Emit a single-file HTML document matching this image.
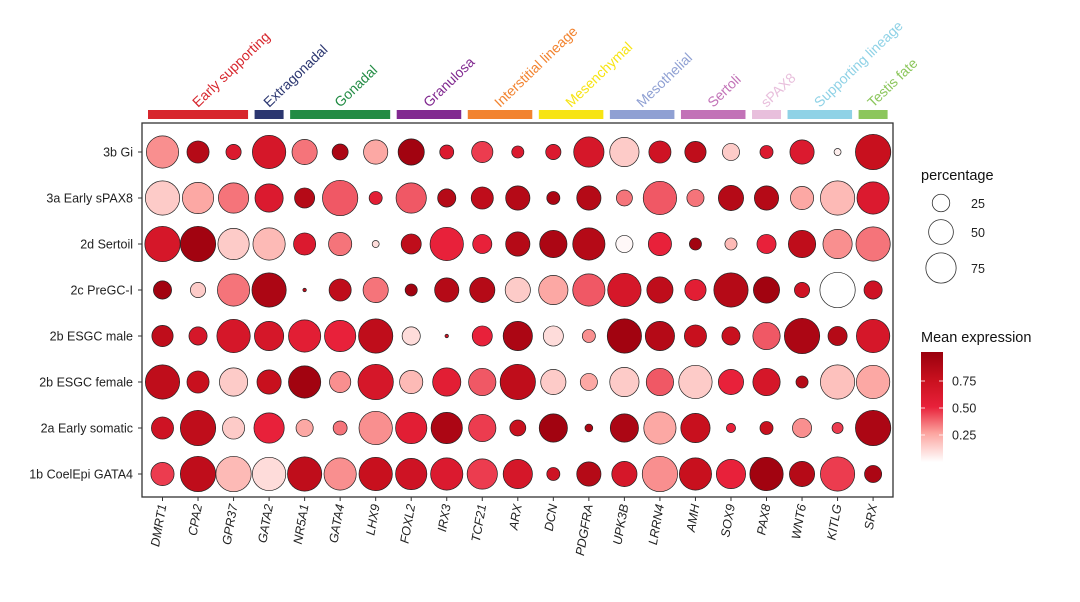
<!DOCTYPE html>
<html><head><meta charset="utf-8">
<style>
html,body{margin:0;padding:0;background:#fff;}
svg{display:block;font-family:"Liberation Sans",Arial,sans-serif;}
</style></head>
<body>
<svg id="chart" width="1080" height="602" viewBox="0 0 1080 602" xmlns="http://www.w3.org/2000/svg">
<rect x="0" y="0" width="1080" height="602" fill="#fff"/>
<g id="annot"></g>
<rect x="142" y="123" width="751" height="374" fill="#fff" stroke="#333" stroke-width="1.3"/>
<g id="dots"></g>
<g id="yaxis"></g>
<g id="xaxis"></g>
<g id="legend-size">
  <text x="921" y="180" font-size="14.5" fill="#111">percentage</text>
</g>
<g id="legend-color">
  <text x="921" y="342" font-size="14.5" fill="#111">Mean expression</text>
  <defs><linearGradient id="cg" x1="0" y1="1" x2="0" y2="0">
    <stop offset="0" stop-color="#ffffff"/>
    <stop offset="0.26" stop-color="#fca5a0"/>
    <stop offset="0.5" stop-color="#e8213a"/>
    <stop offset="0.75" stop-color="#c8101e"/>
    <stop offset="1" stop-color="#99000d"/>
  </linearGradient></defs>
  <rect x="921" y="352" width="22" height="110" fill="url(#cg)"/>
</g>
</svg>
<script>
const genes = ["DMRT1","CPA2","GPR37","GATA2","NR5A1","GATA4","LHX9","FOXL2","IRX3","TCF21","ARX","DCN","PDGFRA","UPK3B","LRRN4","AMH","SOX9","PAX8","WNT6","KITLG","SRX"];
const cellTypes = ["3b Gi","3a Early sPAX8","2d Sertoil","2c PreGC-I","2b ESGC male","2b ESGC female","2a Early somatic","1b CoelEpi GATA4"];
// percentage per row (rows in cellTypes order, columns in genes order)
const pct3bGi = [85,40,19,91,52,21,48,56,16,37,12,19,75,70,40,37,24,14,48,4,102];
const pct3a   = [96,80,75,65,33,102,14,75,27,40,48,14,48,21,91,24,52,48,44,96,85];
const pct2d   = [102,102,80,85,40,44,4,33,91,30,48,61,85,24,44,12,12,30,61,70,96];
const pct2c   = [27,19,85,96,1,40,52,12,48,52,52,70,85,91,56,37,96,56,19,102,27];
const pct2bM  = [37,27,91,70,85,80,96,27,1,33,70,33,14,96,70,40,27,61,102,30,91];
const pct2bF  = [96,40,65,48,85,37,102,44,65,61,102,52,24,70,61,91,52,61,12,96,91];
const pct2a   = [40,102,40,75,24,16,91,80,80,61,21,65,5,65,85,70,7,14,30,10,102];
const pct1b   = [44,102,102,91,96,85,91,80,85,75,70,14,48,52,102,85,70,91,52,96,24];
// mean expression per row
const exp3bGi = [0.3,0.85,0.6,0.65,0.35,0.9,0.25,0.95,0.6,0.45,0.6,0.6,0.65,0.15,0.7,0.8,0.15,0.6,0.6,0.05,0.75];
const exp3a   = [0.15,0.25,0.35,0.6,0.85,0.4,0.55,0.4,0.85,0.8,0.85,0.9,0.85,0.35,0.4,0.35,0.85,0.85,0.25,0.2,0.6];
const exp2d   = [0.65,0.95,0.15,0.2,0.6,0.35,0.1,0.8,0.5,0.5,0.85,0.9,0.85,0.02,0.5,0.95,0.2,0.5,0.8,0.3,0.35];
const exp2c   = [0.95,0.15,0.35,0.9,0.8,0.8,0.35,0.95,0.85,0.85,0.15,0.25,0.4,0.65,0.8,0.55,0.85,0.95,0.7,0.0,0.7];
const exp2bM  = [0.8,0.65,0.65,0.65,0.55,0.5,0.8,0.1,0.7,0.5,0.9,0.1,0.3,0.95,0.85,0.75,0.75,0.4,0.9,0.85,0.65];
const exp2bF  = [0.8,0.75,0.15,0.75,0.95,0.3,0.65,0.2,0.55,0.4,0.8,0.15,0.25,0.15,0.4,0.15,0.5,0.65,0.85,0.18,0.25];
const exp2a   = [0.7,0.8,0.15,0.5,0.25,0.35,0.3,0.55,0.9,0.45,0.75,0.95,0.9,0.9,0.25,0.75,0.5,0.75,0.3,0.45,0.9];
const exp1b   = [0.45,0.8,0.2,0.1,0.8,0.3,0.75,0.7,0.6,0.45,0.65,0.7,0.85,0.65,0.3,0.75,0.5,0.95,0.85,0.45,0.9];
const pctRows = [pct3bGi,pct3a,pct2d,pct2c,pct2bM,pct2bF,pct2a,pct1b];
const expRows = [exp3bGi,exp3a,exp2d,exp2c,exp2bM,exp2bF,exp2a,exp1b];
const sizeBreaks = [25,50,75];
const colorTicks = [0.25,0.5,0.75];
const groupNames = ["Early supporting","Extragonadal","Gonadal","Granulosa","Interstitial lineage","Mesenchymal","Mesothelial","Sertoli","sPAX8","Supporting lineage","Testis fate"];
const groupStart = [0,3,4,7,9,11,13,15,17,18,20];
const groupEnd   = [2,3,6,8,10,12,14,16,17,19,20];
const groupColors = ["#d7262d","#2b3670","#228b44","#812990","#f2832f","#f7e413","#8fa0d3","#c272b7","#e8bfdc","#8fd2e6","#8cc65c"];

const NS="http://www.w3.org/2000/svg";
const X0=162.5, DX=35.53, Y0=152, DY=46;
const xScale = i => X0 + i*DX;
const yScale = j => Y0 + j*DY;
const rScale = p => Math.sqrt(p)*1.75;
const cbY = v => 462 - v*108;
function lerp(a,b,t){return Math.round(a+(b-a)*t);}
const stops=[[0,[255,255,255]],[0.26,[252,165,160]],[0.5,[232,33,58]],[0.75,[200,16,30]],[1,[153,0,13]]];
function colorOf(v){
  v=Math.max(0,Math.min(1,v));
  for(let k=1;k<stops.length;k++){
    if(v<=stops[k][0]){const a=stops[k-1],b=stops[k];const t=(v-a[0])/(b[0]-a[0]);
      return `rgb(${lerp(a[1][0],b[1][0],t)},${lerp(a[1][1],b[1][1],t)},${lerp(a[1][2],b[1][2],t)})`;}
  }
  return "rgb(153,0,13)";
}
function mk(tag,attrs,parent){const e=document.createElementNS(NS,tag);for(const k in attrs)e.setAttribute(k,attrs[k]);parent.appendChild(e);return e;}

const dots=document.getElementById('dots');
cellTypes.forEach((ct,j)=>{
  genes.forEach((g,i)=>{
    const c=mk('circle',{cx:xScale(i),cy:yScale(j),r:rScale(pctRows[j][i]),fill:colorOf(expRows[j][i]),stroke:'#222','stroke-width':0.7},dots);
    
    
  });
});
const ya=document.getElementById('yaxis');
cellTypes.forEach((ct,j)=>{
  const t=mk('text',{x:133,y:yScale(j)+4.5,'text-anchor':'end','font-size':12.5,fill:'#222'},ya);
  t.textContent=ct;
  
  
  const l=mk('line',{x1:138,x2:142,y1:yScale(j),y2:yScale(j),stroke:'#333'},ya);
  
  
});
const xa=document.getElementById('xaxis');
genes.forEach((g,i)=>{
  const l=mk('line',{x1:xScale(i),x2:xScale(i),y1:497,y2:501,stroke:'#333'},xa);
  
  
  const x=xScale(i)+4, y=505;
  const t=mk('text',{x:x,y:y,'text-anchor':'end','font-size':12.5,'font-style':'italic',fill:'#222',transform:`rotate(-80 ${x} ${y})`},xa);
  t.textContent=g;
  
  
});
const an=document.getElementById('annot');
groupNames.forEach((n,k)=>{
  const x1=xScale(groupStart[k])-14.5, x2=xScale(groupEnd[k])+14.5;
  const r=mk('rect',{x:x1,y:110,width:x2-x1,height:9,fill:groupColors[k]},an);
  
  
  const cx=(x1+x2)/2, cy=108;
  const t=mk('text',{x:cx,y:cy,'font-size':14,fill:groupColors[k],transform:`rotate(-44 ${cx} ${cy})`},an);
  t.textContent=n;
  
  
});
const ls=document.getElementById('legend-size');
const legY=[203,232,268];
sizeBreaks.forEach((b,k)=>{
  const c=mk('circle',{cx:941,cy:legY[k],r:rScale(b),fill:'#fff',stroke:'#333','stroke-width':0.8},ls);
  
  
  const t=mk('text',{x:971,y:legY[k]+5,'font-size':12.5,fill:'#222'},ls);
  t.textContent=String(b);
  
  
});
const lc=document.getElementById('legend-color');
colorTicks.forEach(v=>{
  const y=cbY(v);
  const l1=mk('line',{x1:921,x2:925,y1:y,y2:y,stroke:'#fff','stroke-width':0.8},lc);
  
  
  const l2=mk('line',{x1:939,x2:943,y1:y,y2:y,stroke:'#fff','stroke-width':0.8},lc);
  
  
  const t=mk('text',{x:952,y:y+4.5,'font-size':12.5,fill:'#222'},lc);
  t.textContent=v.toFixed(2);
  
  
});
</script>
</body></html>
